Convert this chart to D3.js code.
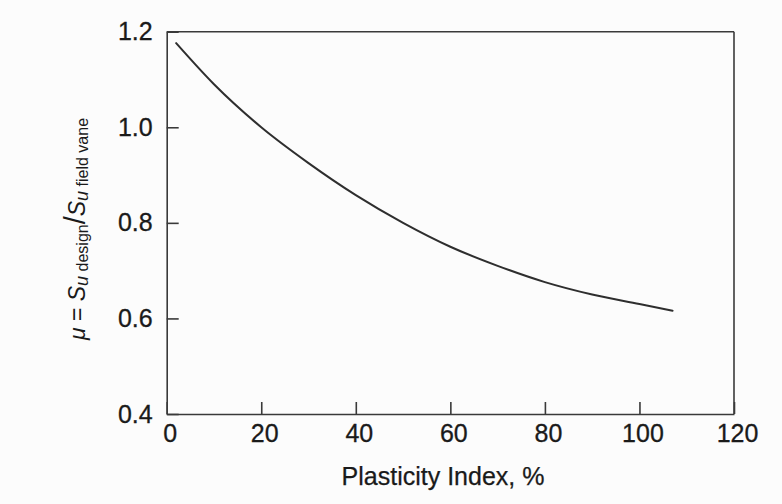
<!DOCTYPE html>
<html>
<head>
<meta charset="utf-8">
<script src="https://cdn.jsdelivr.net/npm/d3@7"></script>
<style>
  html, body { margin: 0; padding: 0; background: #fcfcfc; }
  svg { display: block; }
  text { font-family: "Liberation Sans", Arial, Helvetica, sans-serif; fill: #1a1a1a; }
</style>
</head>
<body>
<svg id="chart" width="782" height="504"></svg>
<script>
// Data (correction factor curve)
const plasticityIndex = [2, 10, 20, 30, 40, 50, 60, 70, 80, 90, 100, 107];
const muValues = [1.176, 1.090, 1.000, 0.925, 0.858, 0.800, 0.750, 0.710, 0.676, 0.650, 0.630, 0.616];
const xTicks = [0, 20, 40, 60, 80, 100, 120];
const yTicks = [0.4, 0.6, 0.8, 1.0, 1.2];
const xLabel = "Plasticity Index, %";

const width = 782, height = 504;
const margin = { top: 31.7, right: 48, bottom: 90, left: 166.7 };
const axisColor = "#3a3a3a";
const textColor = "#1a1a1a";

const svg = d3.select("#chart");

const x = d3.scaleLinear().domain([0, 120]).range([margin.left, width - margin.right]);
const y = d3.scaleLinear().domain([0.4, 1.2]).range([height - margin.bottom, margin.top]);

// Frame: top and right lines
svg.append("line")
  .attr("x1", x(0)).attr("x2", x(120)).attr("y1", y(1.2)).attr("y2", y(1.2))
  .attr("stroke", axisColor).attr("stroke-width", 1.6);
svg.append("line")
  .attr("x1", x(120)).attr("x2", x(120)).attr("y1", y(1.2)).attr("y2", y(0.4))
  .attr("stroke", axisColor).attr("stroke-width", 1.6);

// Bottom axis
const gx = svg.append("g")
  .attr("transform", `translate(0,${y(0.4)})`)
  .call(d3.axisBottom(x).tickValues(xTicks).tickFormat(d3.format("d"))
    .tickSizeInner(-12).tickSizeOuter(0).tickPadding(10));
gx.select(".domain").attr("stroke", axisColor).attr("stroke-width", 1.6);
gx.selectAll(".tick line").attr("stroke", axisColor).attr("stroke-width", 1.6);
gx.selectAll(".tick text")
  .attr("font-size", 25).attr("fill", textColor).attr("dx", 3)
  .attr("stroke", textColor).attr("stroke-width", 0.3)
  .style("font-family", "'Liberation Sans', Arial, sans-serif");

// Left axis
const gy = svg.append("g")
  .attr("transform", `translate(${x(0)},0)`)
  .call(d3.axisLeft(y).tickValues(yTicks).tickFormat(d3.format(".1f"))
    .tickSizeInner(-12).tickSizeOuter(0).tickPadding(14));
gy.select(".domain").attr("stroke", axisColor).attr("stroke-width", 1.6);
gy.selectAll(".tick line").attr("stroke", axisColor).attr("stroke-width", 1.6);
gy.selectAll(".tick text")
  .attr("font-size", 25).attr("fill", textColor)
  .attr("stroke", textColor).attr("stroke-width", 0.3)
  .style("font-family", "'Liberation Sans', Arial, sans-serif");

// Curve
const pts = plasticityIndex.map((p, i) => [p, muValues[i]]);
svg.append("path")
  .datum(pts)
  .attr("fill", "none")
  .attr("stroke", "#2e2e2e")
  .attr("stroke-width", 2)
  .attr("stroke-linecap", "round")
  .attr("d", d3.line().x(d => x(d[0])).y(d => y(d[1])).curve(d3.curveMonotoneX));

// X axis label
svg.append("text")
  .attr("x", 443).attr("y", 485)
  .attr("text-anchor", "middle")
  .attr("font-size", 25)
  .attr("stroke", textColor).attr("stroke-width", 0.25)
  .text(xLabel);

// Y axis label (rotated) : μ = Su design / Su field vane
const yl = svg.append("text")
  .attr("transform", `translate(85,229) rotate(-90)`)
  .attr("text-anchor", "middle")
  .attr("font-size", 23);
yl.append("tspan").attr("font-style", "italic").text("μ");
yl.append("tspan").text(" = ");
yl.append("tspan").attr("font-style", "italic").text("S");
yl.append("tspan").attr("font-style", "italic").attr("font-size", 18).attr("dy", 3).text("u");
yl.append("tspan").attr("font-size", 16).text(" design");
yl.append("tspan").attr("font-size", 29).attr("dy", -3).text("/");
yl.append("tspan").attr("font-style", "italic").text("S");
yl.append("tspan").attr("font-style", "italic").attr("font-size", 18).attr("dy", 3).text("u");
yl.append("tspan").attr("font-size", 16).text(" field vane");
</script>
</body>
</html>
